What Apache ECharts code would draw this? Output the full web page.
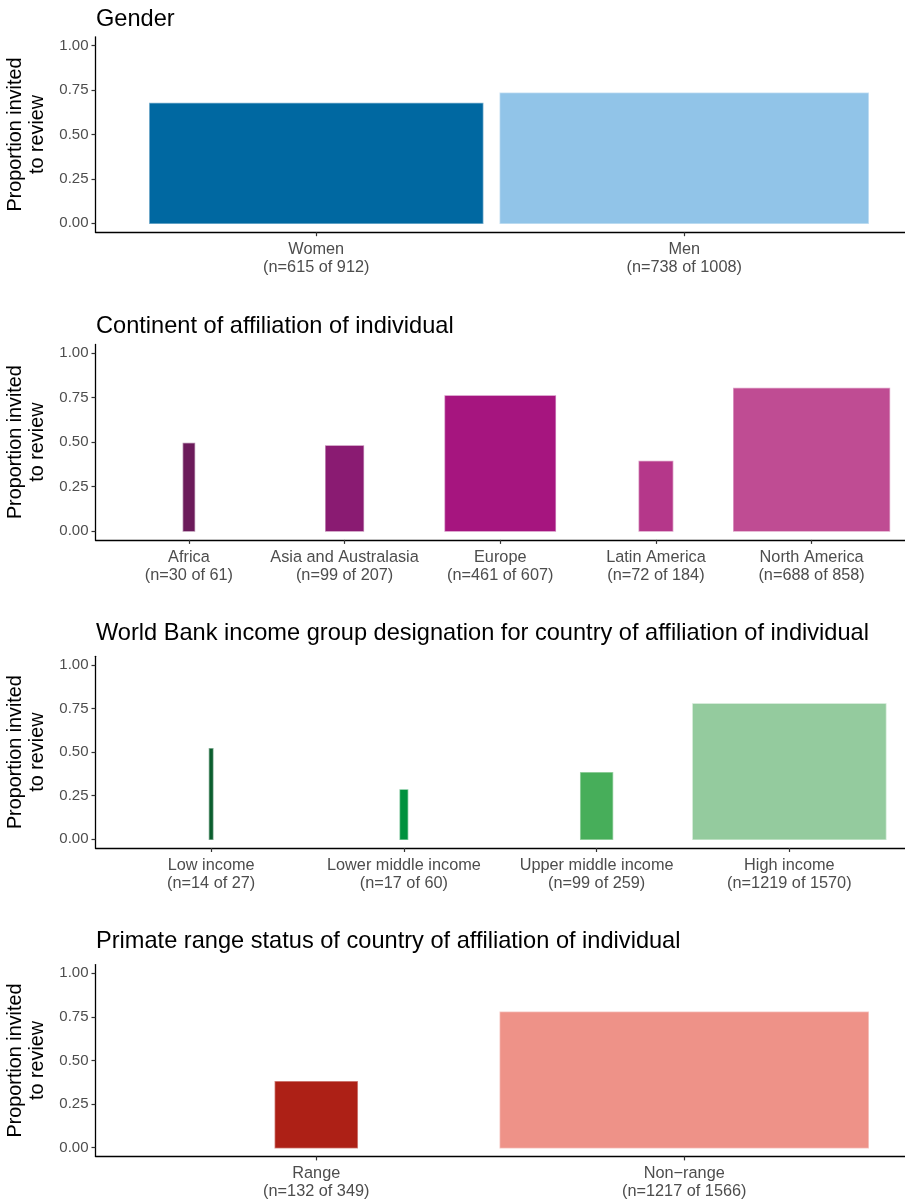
<!DOCTYPE html>
<html>
<head>
<meta charset="utf-8">
<script src="https://cdn.jsdelivr.net/npm/echarts@6/dist/echarts.min.js"></script>
<style>
  html, body { margin: 0; padding: 0; background: #fff; }
  #chart { width: 905px; height: 1200px; }
</style>
</head>
<body>
<div id="chart"></div>
<script>
const myChart = echarts.init(document.getElementById('chart'));
const font = "'Liberation Sans', Arial, sans-serif";

// data
const genderLabels = ['Women', 'Men'];
const genderInvited = [615, 738];
const genderTotal = [912, 1008];
const genderProp = [0.674, 0.732];

const continentLabels = ['Africa', 'Asia and Australasia', 'Europe', 'Latin America', 'North America'];
const continentInvited = [30, 99, 461, 72, 688];
const continentTotal = [61, 207, 607, 184, 858];
const continentProp = [0.492, 0.478, 0.759, 0.391, 0.802];

const incomeLabels = ['Low income', 'Lower middle income', 'Upper middle income', 'High income'];
const incomeInvited = [14, 17, 99, 1219];
const incomeTotal = [27, 60, 259, 1570];
const incomeProp = [0.519, 0.283, 0.382, 0.776];

const rangeLabels = ['Range', 'Non\u2212range'];
const rangeInvited = [132, 1217];
const rangeTotal = [349, 1566];
const rangeProp = [0.378, 0.777];

const yTicks = [0, 0.25, 0.5, 0.75, 1];

const panels = [
  { title: 'Gender', labels: genderLabels, invited: genderInvited, total: genderTotal, prop: genderProp,
    colors: ['#0068a1', '#91c4e8'] },
  { title: 'Continent of affiliation of individual', labels: continentLabels, invited: continentInvited,
    total: continentTotal, prop: continentProp,
    colors: ['#6c1b5b', '#8a1b72', '#a6157f', '#b5378a', '#bf4c93'] },
  { title: 'World Bank income group designation for country of affiliation of individual', labels: incomeLabels,
    invited: incomeInvited, total: incomeTotal, prop: incomeProp,
    colors: ['#0b5e2e', '#00913e', '#47ae5a', '#94cb9e'] },
  { title: 'Primate range status of country of affiliation of individual', labels: rangeLabels,
    invited: rangeInvited, total: rangeTotal, prop: rangeProp,
    colors: ['#ad2016', '#ee9288'] }
];

// layout of each panel (px)
const layout = [
  { titleTop: 7, top: 36.8, height: 195.4 },
  { titleTop: 314, top: 344.4, height: 195.5 },
  { titleTop: 621, top: 656.3, height: 191.7 },
  { titleTop: 929, top: 964.6, height: 191.8 }
];

function barRenderer(colors) {
  return function (params, api) {
    const x = api.value(0);
    const w = api.value(2);
    const p0 = api.coord([x - w / 2, api.value(1)]);
    const p1 = api.coord([x + w / 2, 0]);
    return {
      type: 'rect',
      shape: { x: p0[0], y: p0[1], width: p1[0] - p0[0], height: p1[1] - p0[1] },
      style: {
        fill: colors[params.dataIndex],
        stroke: colors[params.dataIndex],
        strokeOpacity: 0.5,
        lineWidth: 1.5
      }
    };
  };
}

let options = {
  animation: false,
  backgroundColor: '#fff',
  title: panels.map((p, i) => ({
    text: p.title,
    left: 96,
    top: layout[i].titleTop,
    padding: 0,
    textStyle: { fontFamily: font, fontSize: 23.6, fontWeight: 'normal', color: '#000' }
  })),
  grid: layout.map(l => ({
    left: 95.5, right: 0, top: l.top, height: l.height,
    containLabel: false, outerBoundsMode: 'none'
  })),
  xAxis: panels.map((p, i) => {
    const pos = p.labels.map((l, j) => j + 1);
    return {
      type: 'value',
      gridIndex: i,
      min: 0.4,
      max: p.labels.length + 0.6,
      splitLine: { show: false },
      axisLine: { show: true, onZero: false, lineStyle: { color: '#000', width: 1.3 } },
      axisTick: { show: true, customValues: pos, length: 4, lineStyle: { color: '#333', width: 1.2 } },
      axisLabel: {
        customValues: pos,
        formatter: v => p.labels[v - 1] + '\n(n=' + p.invited[v - 1] + ' of ' + p.total[v - 1] + ')',
        color: '#4d4d4d',
        fontFamily: font,
        fontSize: 16.3,
        lineHeight: 18,
        margin: 8.5
      }
    };
  }),
  yAxis: panels.map((p, i) => ({
    type: 'value',
    gridIndex: i,
    min: -0.05,
    max: 1.05,
    splitLine: { show: false },
    axisLine: { show: true, onZero: false, lineStyle: { color: '#000', width: 1.3 } },
    axisTick: { show: true, customValues: yTicks, length: 4, lineStyle: { color: '#333', width: 1.2 } },
    axisLabel: {
      customValues: yTicks,
      formatter: v => v.toFixed(2),
      color: '#4d4d4d',
      fontFamily: font,
      fontSize: 15,
      margin: 7
    },
    name: 'Proportion invited\nto review',
    nameLocation: 'middle',
    nameRotate: 90,
    nameGap: 47,
    nameMoveOverlap: false,
    nameTextStyle: { fontFamily: font, fontSize: 19.8, lineHeight: 22, color: '#000' }
  })),
  series: panels.map((p, i) => {
    const maxTotal = Math.max.apply(null, p.total);
    return {
      type: 'custom',
      xAxisIndex: i,
      yAxisIndex: i,
      renderItem: barRenderer(p.colors),
      data: p.labels.map((l, j) => [j + 1, p.prop[j], p.total[j] / maxTotal])
    };
  })
};

myChart.setOption(options);
</script>
</body>
</html>
